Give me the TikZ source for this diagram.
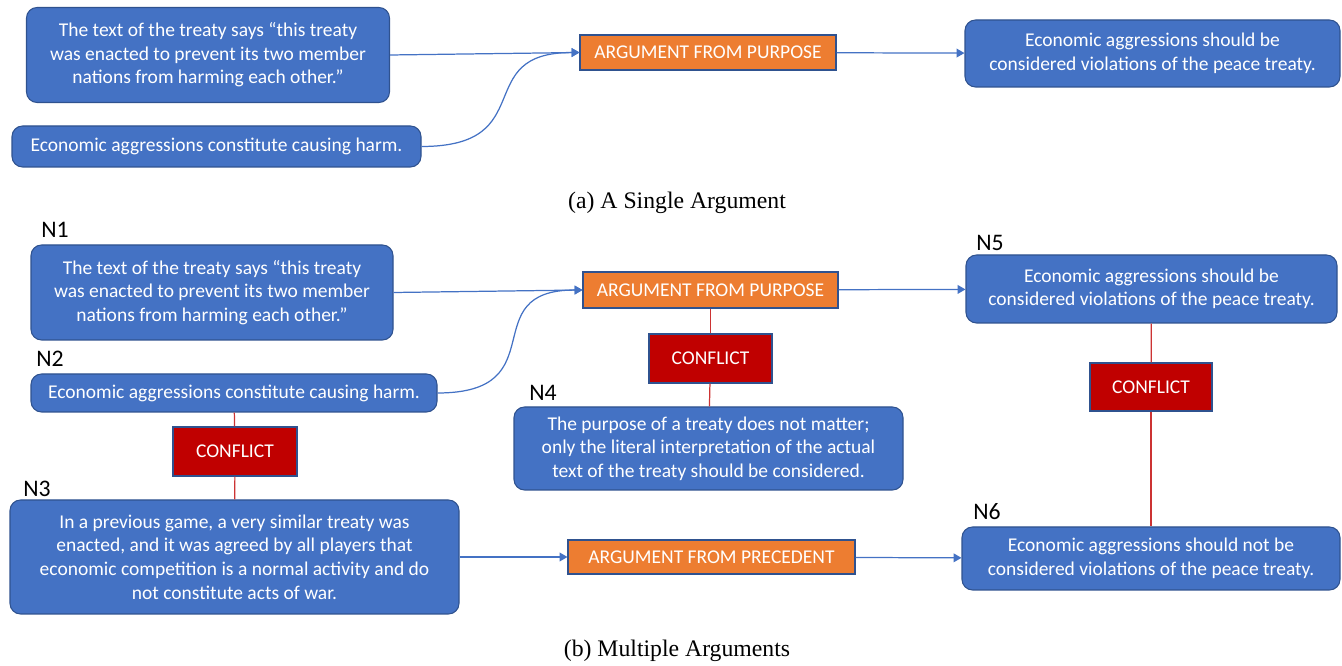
\documentclass[tikz,border=0pt]{standalone}
\usepackage{fontspec}
\setmainfont{Carlito}
\newfontfamily\capfont{Liberation Serif}
\usepackage{xcolor}
\usetikzlibrary{arrows.meta, positioning}
\definecolor{boxblue}{RGB}{68,114,196}
\definecolor{boxedge}{RGB}{47,82,143}
\definecolor{argorange}{RGB}{237,125,49}
\definecolor{confred}{RGB}{192,0,0}
\definecolor{linered}{RGB}{204,51,51}

\begin{document}
\begin{tikzpicture}[
  box/.style={rectangle, rounded corners=6pt, draw=boxedge, fill=boxblue, text=white, font=\fontsize{11.1}{13.4}\selectfont, align=center, inner sep=0pt, line width=0.6pt},
  op/.style={rectangle, draw=boxedge, fill=argorange, text=white, font=\fontsize{11.1}{13.4}\selectfont, inner sep=0pt, line width=0.6pt},
  conf/.style={rectangle, draw=boxedge, fill=confred, text=white, font=\fontsize{11.1}{13.4}\selectfont, inner sep=0pt, line width=0.6pt},
  tag/.style={font=\fontsize{13.5}{16}\selectfont},
  captext/.style={font=\capfont\fontsize{13.5}{16}\selectfont},
  arr/.style={-{Triangle[length=4.5pt,width=5pt]}, line width=0.7pt, boxblue},
  rline/.style={line width=0.7pt, linered}
]
\useasboundingbox (0,0) rectangle (26.84,-13.32);

% (a) single argument
\node[box, minimum width=7.26cm, minimum height=1.9cm] (a1) at (4.16,-1.10) {The text of the treaty says “this treaty\\was enacted to prevent its two member\\nations from harming each other.”};
\node[box, minimum width=8.18cm, minimum height=0.82cm] (a2) at (4.33,-2.93) {Economic aggressions constitute causing harm.};
\node[op, minimum width=5.12cm, minimum height=0.7cm] (apur) at (14.16,-1.05) {ARGUMENT FROM PURPOSE};
\node[box, minimum width=7.5cm, minimum height=1.34cm] (a4) at (23.05,-1.07) {Economic aggressions should be\\considered violations of the peace treaty.};
\node[captext] (capa) at (13.54,-4.06) {(a) A Single Argument};

\draw[arr] (a1.east) -- (apur.west);
\draw[arr] (a2.east) .. controls +(2.4,0) and +(-2.2,0) .. (apur.west);
\draw[arr] (apur) -- (a4);

% (b) multiple arguments
\node[tag] (t1) at (1.10,-4.60) {N1};
\node[box, minimum width=7.24cm, minimum height=1.9cm] (n1) at (4.24,-5.85) {The text of the treaty says “this treaty\\was enacted to prevent its two member\\nations from harming each other.”};
\node[tag] (t2) at (1.00,-7.18) {N2};
\node[box, minimum width=8.12cm, minimum height=0.76cm] (n2) at (4.68,-7.86) {Economic aggressions constitute causing harm.};
\node[op, minimum width=5.1cm, minimum height=0.72cm] (pur) at (14.21,-5.80) {ARGUMENT FROM PURPOSE};
\node[conf, minimum width=2.46cm, minimum height=0.98cm] (c1) at (14.21,-7.17) {CONFLICT};
\node[tag] (t4) at (10.86,-7.86) {N4};
\node[box, minimum width=7.78cm, minimum height=1.66cm] (n4) at (14.17,-8.97) {The purpose of a treaty does not matter;\\only the literal interpretation of the actual\\text of the treaty should be considered.};
\node[tag] (t5) at (19.80,-4.86) {N5};
\node[box, minimum width=7.42cm, minimum height=1.36cm] (n5) at (23.03,-5.78) {Economic aggressions should be\\considered violations of the peace treaty.};
\node[conf, minimum width=2.44cm, minimum height=0.96cm] (c2) at (23.02,-7.74) {CONFLICT};
\node[tag] (t6) at (19.74,-10.24) {N6};
\node[box, minimum width=7.56cm, minimum height=1.26cm] (n6) at (23.02,-11.17) {Economic aggressions should not be\\considered violations of the peace treaty.};
\node[conf, minimum width=2.48cm, minimum height=0.98cm] (c3) at (4.70,-9.03) {CONFLICT};
\node[tag] (t3) at (0.74,-9.78) {N3};
\node[box, minimum width=8.98cm, minimum height=2.28cm] (n3) at (4.69,-11.14) {In a previous game, a very similar treaty was\\enacted, and it was agreed by all players that\\economic competition is a normal activity and do\\not constitute acts of war.};
\node[op, minimum width=5.74cm, minimum height=0.68cm] (pre) at (14.23,-11.14) {ARGUMENT FROM PRECEDENT};
\node[captext] (capb) at (13.54,-13.02) {(b) Multiple Arguments};

\draw[arr] (n1.east) -- (pur.west);
\draw[arr] (n2.east) .. controls +(2.4,0) and +(-2.2,0) .. (pur.west);
\draw[arr] (pur) -- (n5);
\draw[arr] (n3) -- (pre);
\draw[arr] (pre) -- (n6);
\draw[rline] (pur) -- (c1);
\draw[rline] (c1) -- (n4);
\draw[rline] (n2) -- (c3);
\draw[rline] (c3) -- (n3);
\draw[rline] (n5) -- (c2);
\draw[rline] (c2) -- (n6);
\end{tikzpicture}
\end{document}
